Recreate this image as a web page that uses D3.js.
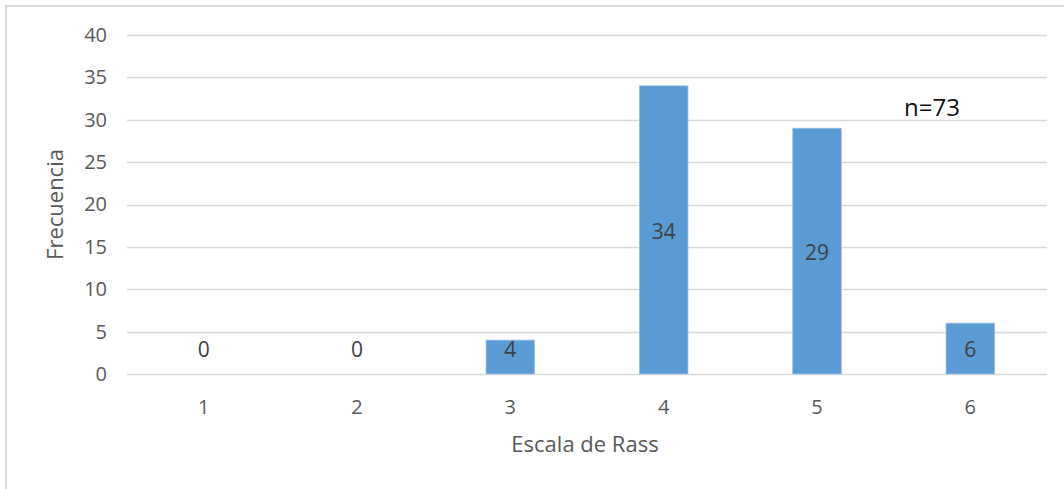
<!DOCTYPE html>
<html>
<head>
<meta charset="utf-8">
<script src="https://cdn.jsdelivr.net/npm/d3@7"></script>
<style>
  html, body { margin: 0; padding: 0; background: #fff; }
  svg { display: block; font-family: "Open Sans", "Noto Sans", sans-serif; }
</style>
</head>
<body>
<svg id="chart" width="1064" height="489"></svg>
<script>
// Frequency of each Rass scale score
const categories = ["1", "2", "3", "4", "5", "6"];
const values = [0, 0, 4, 34, 29, 6];
const yTicks = [0, 5, 10, 15, 20, 25, 30, 35, 40];
const sampleNote = "n=73";

const svg = d3.select("#chart");
const W = 1064, H = 489;

// outer chart border (continues past the right/bottom edge)
svg.append("rect")
  .attr("x", 6).attr("y", 6)
  .attr("width", W + 10).attr("height", H + 10)
  .attr("fill", "#fff")
  .attr("stroke", "#d9d9d9")
  .attr("stroke-width", 2);

const plot = { left: 127, right: 1047, top: 35, bottom: 374 };

const x = d3.scaleBand()
  .domain(categories)
  .range([plot.left, plot.right])
  .paddingInner(0.683)
  .paddingOuter(0.3415);

const y = d3.scaleLinear()
  .domain([0, 40])
  .range([plot.bottom, plot.top]);

// horizontal gridlines
svg.append("g")
  .selectAll("line")
  .data(yTicks)
  .join("line")
  .attr("x1", plot.left).attr("x2", plot.right)
  .attr("y1", d => Math.round(y(d)) + 0.5)
  .attr("y2", d => Math.round(y(d)) + 0.5)
  .attr("stroke", "#d9d9d9")
  .attr("stroke-width", 1.3);

// y axis labels
const yAxis = d3.axisLeft(y).tickValues(yTicks).tickSize(0).tickPadding(0);
const gy = svg.append("g")
  .attr("transform", `translate(${plot.left - 20},0)`)
  .call(yAxis);
gy.select(".domain").remove();
gy.selectAll("text")
  .attr("fill", "#595959")
  .attr("font-size", 20)
  .attr("font-family", "'Open Sans', sans-serif");

// x axis labels
const xAxis = d3.axisBottom(x).tickSize(0).tickPadding(0);
const gx = svg.append("g")
  .attr("transform", `translate(0,${plot.bottom + 33})`)
  .call(xAxis);
gx.select(".domain").remove();
gx.selectAll("text")
  .attr("dy", "0.35em")
  .attr("fill", "#595959")
  .attr("font-size", 20)
  .attr("font-family", "'Open Sans', sans-serif");

// bars
svg.append("g")
  .selectAll("rect")
  .data(values)
  .join("rect")
  .attr("x", (d, i) => x(categories[i]))
  .attr("width", x.bandwidth())
  .attr("y", d => y(d))
  .attr("height", d => y(0) - y(d))
  .attr("fill", "#5b9bd5")
  .attr("stroke", "#9dc3e6")
  .attr("stroke-width", 0.8);

// value labels, centred in the bar but kept clear of the baseline
svg.append("g")
  .selectAll("text")
  .data(values)
  .join("text")
  .attr("x", (d, i) => x(categories[i]) + x.bandwidth() / 2)
  .attr("y", d => Math.min((y(d) + y(0)) / 2 + 1.5, y(0) - 24))
  .attr("dy", "0.35em")
  .attr("text-anchor", "middle")
  .attr("fill", "#404040")
  .attr("font-size", 21)
  .text(d => d);

// axis titles
svg.append("text")
  .attr("transform", `translate(55,${(plot.top + plot.bottom) / 2}) rotate(-90)`)
  .attr("dy", "0.35em")
  .attr("text-anchor", "middle")
  .attr("fill", "#595959")
  .attr("font-size", 22)
  .text("Frecuencia");

svg.append("text")
  .attr("x", (plot.left + plot.right) / 2 - 2)
  .attr("y", 444)
  .attr("dy", "0.35em")
  .attr("text-anchor", "middle")
  .attr("fill", "#595959")
  .attr("font-size", 22)
  .text("Escala de Rass");

// sample size note
svg.append("text")
  .attr("x", 904)
  .attr("y", 116)
  .attr("fill", "#111")
  .attr("font-size", 24)
  .text(sampleNote);
</script>
</body>
</html>
